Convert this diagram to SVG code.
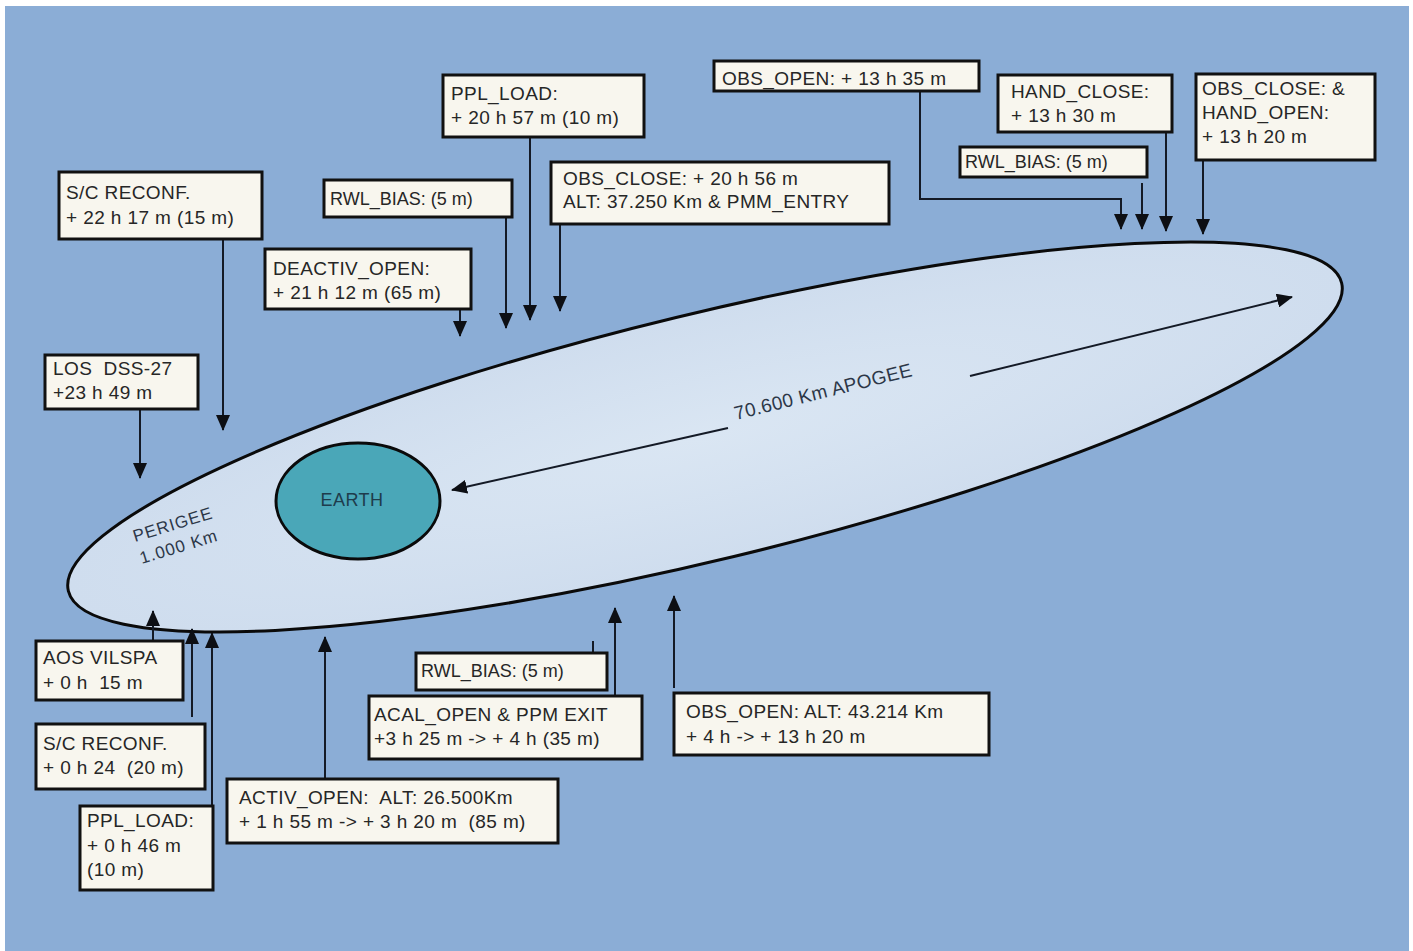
<svg xmlns="http://www.w3.org/2000/svg" width="1413" height="951" viewBox="0 0 1413 951">
  <style>
    .box { fill: #f8f6ee; stroke: #111; stroke-width: 3; }
    .lbl { font-family: "Liberation Sans", Arial, sans-serif; font-size: 19px; letter-spacing: 0.4px; fill: #262626; white-space: pre; }
    .narrow { font-size: 18px; letter-spacing: 0; }
    .wire { fill: none; stroke: #141a26; stroke-width: 2; marker-end: url(#head); }
    .plain { fill: none; stroke: #141a26; stroke-width: 2; }
    .orbit-txt { font-family: "Liberation Sans", Arial, sans-serif; fill: #2c3748; white-space: pre; }
  </style>
  <defs>
    <marker id="head" markerUnits="userSpaceOnUse" markerWidth="16" markerHeight="14" refX="15" refY="7" orient="auto">
      <path d="M0,0 L16,7 L0,14 z" fill="#0d0f14"/>
    </marker>
    <radialGradient id="orbitFill" cx="0.5" cy="0.5" r="0.5">
      <stop offset="0" stop-color="#dae6f3"/>
      <stop offset="1" stop-color="#cfddee"/>
    </radialGradient>
  </defs>

  <!-- page and backdrop -->
  <rect x="0" y="0" width="1413" height="951" fill="#ffffff"/>
  <rect x="5" y="6" width="1404" height="945" fill="#8badd6"/>

  <!-- orbit -->
  <g id="orbit">
    <ellipse cx="705" cy="437" rx="655" ry="123" transform="rotate(-13.6 705 437)" fill="url(#orbitFill)" stroke="#0a0a0a" stroke-width="3"/>
    <text class="orbit-txt" font-size="17" letter-spacing="1" transform="translate(135 542) rotate(-17)">PERIGEE</text>
    <text class="orbit-txt" font-size="17" letter-spacing="1" transform="translate(135 542) rotate(-17)" x="0" y="23">1.000 Km</text>
  </g>

  <g id="earth">
    <ellipse cx="358" cy="501" rx="82" ry="58" fill="#4aa7b8" stroke="#0a0a0a" stroke-width="3"/>
    <text x="352" y="506" text-anchor="middle" font-family="Liberation Sans, Arial, sans-serif" font-size="18" letter-spacing="0.5" fill="#1e3c4c">EARTH</text>
  </g>

  <g id="apogee">
    <line class="wire" x1="728" y1="428" x2="452" y2="490"/>
    <line class="wire" x1="970" y1="376" x2="1292" y2="297"/>
    <text class="orbit-txt" font-size="19" letter-spacing="0.4" transform="translate(736 420) rotate(-14)">70.600 Km APOGEE</text>
  </g>

  <!-- connectors -->
  <g id="connectors">
    <line class="wire" x1="223" y1="239" x2="223" y2="430"/>
    <line class="wire" x1="506" y1="217" x2="506" y2="328"/>
    <line class="wire" x1="530" y1="137" x2="530" y2="320"/>
    <line class="wire" x1="460" y1="309" x2="460" y2="336"/>
    <line class="wire" x1="560" y1="224" x2="560" y2="311"/>
    <polyline class="wire" points="920,91 920,199 1121,199 1121,229"/>
    <line class="wire" x1="1166" y1="132" x2="1166" y2="231"/>
    <line class="wire" x1="1142" y1="183" x2="1142" y2="229"/>
    <line class="wire" x1="1203" y1="160" x2="1203" y2="234"/>
    <line class="wire" x1="140" y1="409" x2="140" y2="478"/>
    <line class="wire" x1="153" y1="641" x2="153" y2="611"/>
    <line class="wire" x1="192" y1="717" x2="192" y2="629"/>
    <line class="wire" x1="212" y1="806" x2="212" y2="633"/>
    <line class="wire" x1="325" y1="779" x2="325" y2="637"/>
    <line class="plain" x1="593" y1="641" x2="593" y2="653"/>
    <line class="wire" x1="615" y1="696" x2="615" y2="608"/>
    <line class="wire" x1="674" y1="688" x2="674" y2="596"/>
  </g>

  <!-- event boxes above the orbit -->
  <g id="sc-reconf-22h17">
    <rect class="box" x="59" y="172" width="203" height="67"/>
    <text class="lbl" x="66" y="199">S/C RECONF.</text>
    <text class="lbl" x="66" y="224">+ 22 h 17 m (15 m)</text>
  </g>
  <g id="rwl-bias-left">
    <rect class="box" x="324" y="180" width="188" height="37"/>
    <text class="lbl narrow" x="330" y="205">RWL_BIAS: (5 m)</text>
  </g>
  <g id="ppl-load-20h57">
    <rect class="box" x="443" y="75" width="201" height="62"/>
    <text class="lbl" x="451" y="100">PPL_LOAD:</text>
    <text class="lbl" x="451" y="124">+ 20 h 57 m (10 m)</text>
  </g>
  <g id="deactiv-open">
    <rect class="box" x="265" y="249" width="206" height="60"/>
    <text class="lbl" x="273" y="275">DEACTIV_OPEN:</text>
    <text class="lbl" x="273" y="299">+ 21 h 12 m (65 m)</text>
  </g>
  <g id="obs-close-20h56">
    <rect class="box" x="551" y="162" width="338" height="62"/>
    <text class="lbl" x="563" y="185">OBS_CLOSE: + 20 h 56 m</text>
    <text class="lbl" x="563" y="208">ALT: 37.250 Km &amp; PMM_ENTRY</text>
  </g>
  <g id="obs-open-13h35">
    <rect class="box" x="714" y="61" width="265" height="30"/>
    <text class="lbl" x="722" y="85">OBS_OPEN: + 13 h 35 m</text>
  </g>
  <g id="hand-close">
    <rect class="box" x="998" y="75" width="174" height="57"/>
    <text class="lbl" x="1011" y="98">HAND_CLOSE:</text>
    <text class="lbl" x="1011" y="122">+ 13 h 30 m</text>
  </g>
  <g id="rwl-bias-right">
    <rect class="box" x="960" y="147" width="187" height="30"/>
    <text class="lbl narrow" x="965" y="168">RWL_BIAS: (5 m)</text>
  </g>
  <g id="obs-close-hand-open">
    <rect class="box" x="1196" y="74" width="179" height="86"/>
    <text class="lbl" x="1202" y="95">OBS_CLOSE: &amp;</text>
    <text class="lbl" x="1202" y="119">HAND_OPEN:</text>
    <text class="lbl" x="1202" y="143">+ 13 h 20 m</text>
  </g>
  <g id="los-dss27">
    <rect class="box" x="45" y="355" width="153" height="54"/>
    <text class="lbl" x="53" y="375">LOS  DSS-27</text>
    <text class="lbl" x="53" y="399">+23 h 49 m</text>
  </g>

  <!-- event boxes below the orbit -->
  <g id="aos-vilspa">
    <rect class="box" x="36" y="641" width="147" height="59"/>
    <text class="lbl" x="43" y="664">AOS VILSPA</text>
    <text class="lbl" x="43" y="689">+ 0 h  15 m</text>
  </g>
  <g id="sc-reconf-0h24">
    <rect class="box" x="36" y="724" width="169" height="65"/>
    <text class="lbl" x="43" y="750">S/C RECONF.</text>
    <text class="lbl" x="43" y="774">+ 0 h 24  (20 m)</text>
  </g>
  <g id="ppl-load-0h46">
    <rect class="box" x="80" y="806" width="133" height="84"/>
    <text class="lbl" x="87" y="827">PPL_LOAD:</text>
    <text class="lbl" x="87" y="852">+ 0 h 46 m</text>
    <text class="lbl" x="87" y="876">(10 m)</text>
  </g>
  <g id="activ-open">
    <rect class="box" x="227" y="779" width="331" height="64"/>
    <text class="lbl" x="239" y="804">ACTIV_OPEN:  ALT: 26.500Km</text>
    <text class="lbl" x="239" y="828">+ 1 h 55 m -&gt; + 3 h 20 m  (85 m)</text>
  </g>
  <g id="rwl-bias-bottom">
    <rect class="box" x="416" y="653" width="191" height="37"/>
    <text class="lbl narrow" x="421" y="677">RWL_BIAS: (5 m)</text>
  </g>
  <g id="acal-open">
    <rect class="box" x="369" y="696" width="273" height="63"/>
    <text class="lbl" x="374" y="721">ACAL_OPEN &amp; PPM EXIT</text>
    <text class="lbl" x="374" y="745">+3 h 25 m -&gt; + 4 h (35 m)</text>
  </g>
  <g id="obs-open-43214">
    <rect class="box" x="674" y="693" width="315" height="62"/>
    <text class="lbl" x="686" y="718">OBS_OPEN: ALT: 43.214 Km</text>
    <text class="lbl" x="686" y="743">+ 4 h -&gt; + 13 h 20 m</text>
  </g>
</svg>
